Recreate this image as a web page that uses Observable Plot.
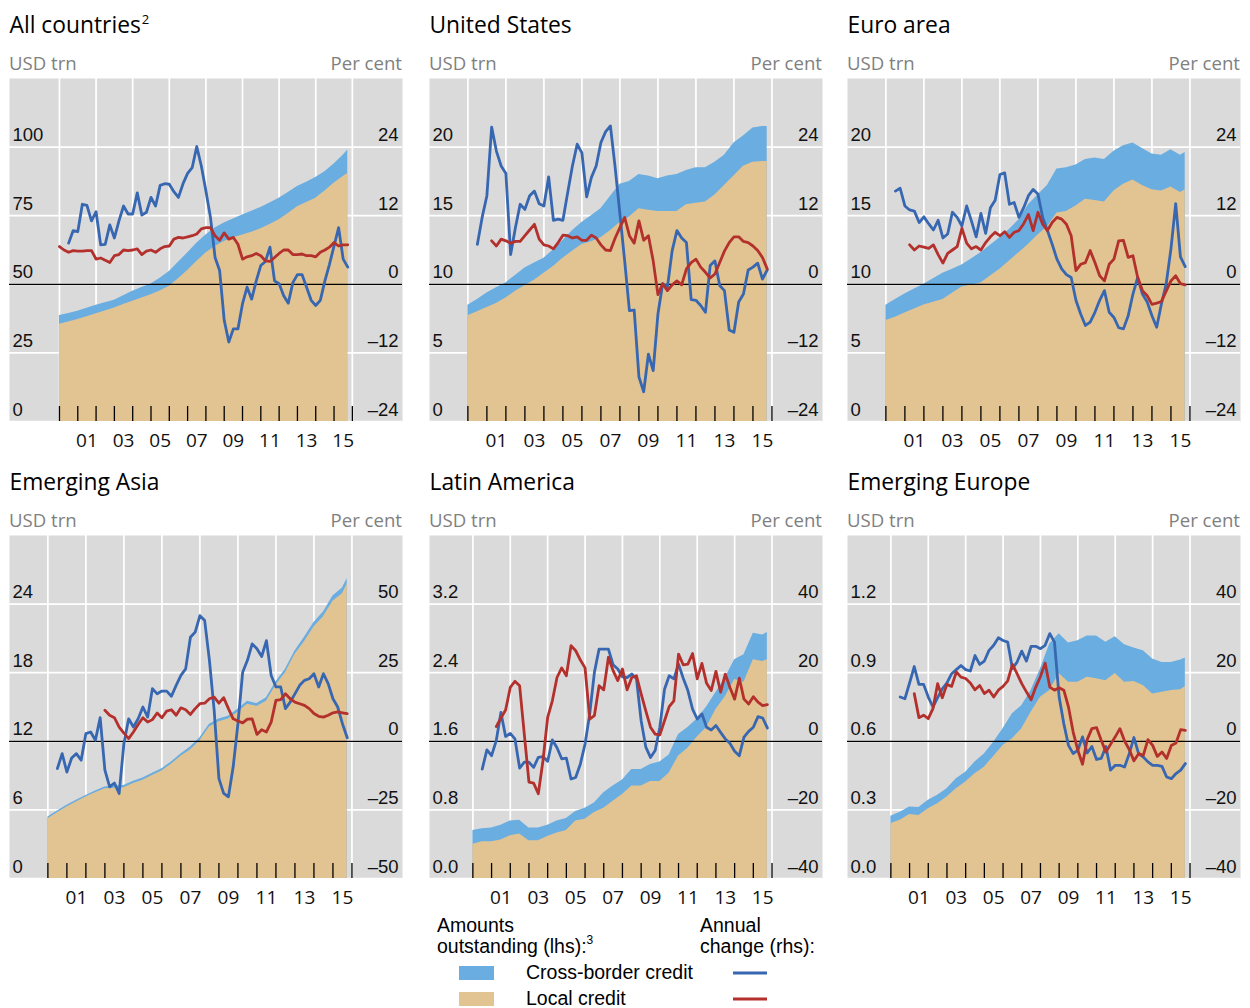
<!DOCTYPE html>
<html><head><meta charset="utf-8">
<script src="https://cdn.jsdelivr.net/npm/d3@7"></script>
<script src="https://cdn.jsdelivr.net/npm/@observablehq/plot@0.6"></script>
<style>
html,body{margin:0;padding:0;background:#fff;overflow:hidden;}
#root{position:relative;width:1250px;height:1008px;overflow:hidden;}
#overlay{position:absolute;left:0;top:0;}
.panel{position:absolute;}
.panel svg{overflow:visible;}
</style></head>
<body><div id="root"><svg id="overlay" width="1250" height="1008"></svg></div>
<script>
// ---------- DATA ----------
// half-year observation dates for amounts outstanding (areas)
const halfYears = [2000, 2000.5, 2001, 2001.5, 2002, 2002.5, 2003, 2003.5, 2004, 2004.5, 2005, 2005.5, 2006, 2006.5, 2007, 2007.5, 2008, 2008.5, 2009, 2009.5, 2010, 2010.5, 2011, 2011.5, 2012, 2012.5, 2013, 2013.5, 2014, 2014.5, 2015, 2015.5, 2015.75];
// quarterly dates for annual changes (lines)
const quarters = d3.range(64).map(i => 2000 + i / 4);

// All countries (USD trn / per cent)
const allLocal = [35.4, 36.3, 37.2, 38.2, 39.3, 40.3, 41.4, 42.6, 43.8, 45.0, 46.2, 47.6, 49.3, 52.0, 55.0, 58.3, 61.4, 63.8, 65.6, 67.0, 68.0, 69.0, 70.2, 71.8, 73.5, 75.8, 78.3, 79.8, 81.4, 84.0, 86.8, 89.3, 90.4];
const allCross = [3.2, 3.1, 3.0, 3.1, 3.1, 3.0, 2.8, 3.2, 3.7, 3.8, 3.9, 4.6, 5.4, 6.0, 6.4, 6.7, 6.6, 6.7, 6.7, 6.8, 7.3, 7.6, 7.8, 7.8, 7.9, 7.7, 7.3, 7.4, 7.5, 7.0, 7.0, 7.7, 8.5];
const allCrossChg = [null, null, 7.2, 9.4, 9.2, 14.0, 13.8, 11.1, 12.7, 6.9, 7.0, 10.4, 8.1, 11.1, 13.7, 12.3, 12.3, 16.0, 12.1, 12.6, 15.2, 13.7, 17.3, 17.6, 17.5, 16.2, 15.2, 17.6, 19.4, 20.4, 24.1, 20.7, 16.3, 11.7, 4.7, 2.4, -6.3, -10.1, -7.8, -7.8, -3.4, -0.5, -2.6, 0.6, 3.3, 4.0, 6.5, 0.6, 0.1, -2.0, -3.3, 0.3, 1.7, 1.7, -0.5, -2.8, -3.7, -2.8, 0.6, 3.5, 6.7, 9.9, 4.4, 3.0];
const allLocalChg = [6.6, 6.0, 5.6, 5.9, 5.8, 5.8, 5.9, 5.9, 4.4, 4.6, 4.2, 3.8, 5.0, 5.2, 6.0, 5.9, 6.0, 6.2, 5.2, 5.8, 6.0, 5.6, 6.2, 6.6, 6.7, 7.9, 8.2, 8.1, 8.3, 8.5, 8.8, 9.7, 9.9, 9.9, 8.5, 7.7, 9.0, 7.9, 8.2, 7.0, 4.4, 4.8, 5.0, 5.4, 5.0, 4.1, 4.0, 4.7, 5.4, 6.0, 6.0, 5.2, 5.2, 5.3, 5.0, 5.0, 4.8, 5.6, 6.0, 6.5, 7.3, 6.7, 6.9, 6.9];

// United States
const usLocal = [7.7, 8.0, 8.3, 8.6, 9.0, 9.5, 9.9, 10.3, 10.8, 11.3, 11.9, 12.4, 12.9, 13.1, 13.4, 13.9, 14.5, 14.9, 15.5, 15.4, 15.3, 15.3, 15.3, 15.8, 15.9, 16.0, 16.5, 17.2, 17.9, 18.6, 18.9, 18.95, 18.95];
const usCross = [0.77, 0.9, 1.07, 1.15, 1.1, 1.15, 1.29, 1.25, 1.1, 1.2, 1.3, 1.5, 1.6, 1.9, 2.1, 2.5, 2.8, 2.6, 2.5, 2.5, 2.4, 2.6, 2.7, 2.5, 2.6, 2.5, 2.4, 2.2, 2.4, 2.2, 2.5, 2.55, 2.55];
const usCrossChg = [null, null, 7.0, 11.7, 15.5, 27.5, 23.3, 20.7, 19.4, 5.2, 9.9, 14.0, 13.1, 15.5, 16.3, 14.1, 13.7, 18.8, 11.2, 11.4, 11.2, 16.0, 20.7, 24.5, 23.0, 15.3, 18.7, 20.7, 24.8, 26.7, 27.7, 20.4, 12.3, 4.1, -4.6, -4.5, -16.2, -18.8, -12.2, -15.1, -5.2, 0.1, -0.5, 5.9, 9.4, 8.1, 7.3, -2.7, -2.8, -3.7, -4.9, 3.3, 4.1, -0.2, -1.1, -8.0, -8.4, -3.1, -1.7, 2.5, 3.0, 3.7, 0.9, 2.5];
const usLocalChg = [null, null, null, null, null, 7.6, 6.7, 7.9, 7.6, 7.2, 7.5, 7.5, 8.5, 9.5, 10.5, 7.9, 6.9, 6.7, 6.2, 7.3, 8.6, 8.5, 8.1, 8.3, 7.7, 7.7, 8.6, 8.1, 6.9, 6.0, 5.9, 8.1, 9.9, 11.7, 8.5, 7.2, 11.1, 7.7, 8.5, 4.1, -1.8, 0.1, -1.1, -0.1, 0.6, -0.1, 2.7, 3.8, 4.4, 3.0, 2.1, 1.1, 1.8, 3.8, 5.8, 7.3, 8.3, 8.3, 7.5, 7.3, 6.7, 5.9, 4.7, 2.7];

// Euro area
const euroLocal = [7.36, 7.6, 7.9, 8.2, 8.5, 8.7, 8.9, 9.35, 9.8, 9.95, 10.1, 10.6, 11.1, 11.7, 12.3, 12.9, 13.6, 14.2, 15.2, 15.3, 15.7, 16.2, 16.1, 16.0, 16.8, 17.3, 17.6, 17.2, 16.9, 16.8, 17.1, 16.7, 16.9];
const euroCross = [1.11, 1.3, 1.4, 1.45, 1.5, 1.7, 1.9, 1.75, 1.6, 1.9, 2.2, 2.25, 2.3, 2.3, 2.4, 2.9, 2.9, 3.0, 3.2, 3.2, 3.0, 2.9, 3.1, 3.1, 2.9, 2.8, 2.7, 2.7, 2.6, 2.6, 2.7, 2.7, 2.7];
const euroCrossChg = [null, null, 16.3, 16.8, 13.7, 13.0, 12.8, 10.8, 11.8, 10.6, 9.5, 11.2, 8.1, 8.8, 12.6, 11.7, 10.2, 13.7, 11.1, 8.3, 12.4, 8.9, 13.4, 14.7, 19.2, 19.5, 14.0, 14.3, 11.7, 13.4, 15.5, 16.6, 15.8, 11.7, 9.4, 7.0, 4.4, 2.7, 1.7, 1.2, -2.8, -5.2, -7.2, -6.6, -4.9, -2.8, -1.1, -4.9, -5.8, -7.6, -7.8, -5.5, -1.7, 1.2, -1.7, -3.1, -5.5, -7.5, -3.4, 0.1, 6.2, 14.1, 4.8, 3.1];
const euroLocalChg = [null, null, null, null, null, 6.9, 6.0, 6.7, 6.5, 6.3, 6.9, 5.2, 3.7, 5.4, 6.0, 6.6, 9.8, 7.2, 6.2, 6.6, 6.0, 7.3, 8.3, 9.1, 8.5, 9.2, 8.2, 9.1, 9.4, 10.6, 12.2, 9.4, 12.6, 10.5, 9.4, 10.8, 11.7, 11.4, 10.5, 8.5, 2.4, 3.5, 3.8, 5.9, 3.8, 1.5, 0.6, 3.5, 4.4, 7.6, 7.7, 4.7, 5.0, 1.2, -1.1, -2.0, -3.5, -3.3, -3.0, -1.2, 0.6, 1.5, 0.1, -0.1];

// Emerging Asia
const asiaLocal = [5.23, 5.75, 6.25, 6.7, 7.12, 7.5, 7.85, 7.9, 7.94, 8.3, 8.6, 9.0, 9.4, 10.0, 10.7, 11.25, 12.05, 13.25, 13.7, 13.95, 14.55, 15.25, 15.05, 15.5, 16.9, 18.0, 19.6, 20.7, 22.0, 22.9, 24.25, 24.9, 25.75];
const asiaCross = [0.15, 0.15, 0.15, 0.15, 0.15, 0.15, 0.15, 0.2, 0.2, 0.2, 0.2, 0.2, 0.2, 0.2, 0.2, 0.25, 0.25, 0.25, 0.25, 0.25, 0.25, 0.25, 0.25, 0.3, 0.3, 0.3, 0.3, 0.4, 0.4, 0.4, 0.45, 0.5, 0.5];
const asiaCrossChg = [null, null, -9.9, -4.5, -11.2, -6.1, -4.5, -6.9, 2.8, 3.4, 0.4, 8.6, -10.5, -16.6, -15.2, -19.0, -0.8, 8.2, 5.2, 8.2, 12.5, 8.8, 19.2, 17.3, 18.3, 18.3, 16.4, 20.4, 24.0, 26.4, 37.9, 39.8, 45.8, 44.0, 29.5, 11.3, -13.6, -19.0, -20.2, -9.3, 6.4, 25.2, 29.5, 35.5, 33.7, 30.9, 36.7, 24.0, 19.8, 19.8, 11.9, 14.3, 17.3, 20.4, 22.2, 22.8, 24.6, 19.8, 24.6, 21.0, 15.5, 12.5, 6.4, 1.3];
const asiaLocalChg = [null, null, null, null, null, null, null, null, null, null, null, null, 11.3, 9.5, 8.6, 5.2, 3.0, 1.0, 3.4, 6.1, 8.6, 7.0, 7.9, 10.3, 8.6, 11.0, 11.5, 9.5, 12.2, 11.5, 9.8, 11.9, 13.7, 13.9, 15.5, 16.1, 13.9, 15.9, 11.9, 8.2, 7.4, 6.7, 8.1, 8.2, 2.5, 4.2, 3.4, 7.0, 14.9, 15.2, 17.3, 15.5, 14.3, 13.7, 13.1, 11.9, 10.1, 9.1, 8.8, 9.5, 10.4, 10.7, 10.4, 10.1];

// Latin America
const latLocal = [0.40, 0.43, 0.43, 0.45, 0.50, 0.52, 0.44, 0.44, 0.49, 0.53, 0.56, 0.67, 0.69, 0.77, 0.82, 0.90, 0.98, 1.08, 1.08, 1.13, 1.13, 1.23, 1.43, 1.52, 1.65, 1.76, 1.97, 2.12, 2.32, 2.29, 2.55, 2.53, 2.55];
const latCross = [0.16, 0.15, 0.16, 0.17, 0.17, 0.16, 0.15, 0.15, 0.13, 0.14, 0.14, 0.11, 0.13, 0.11, 0.18, 0.18, 0.17, 0.19, 0.19, 0.20, 0.23, 0.21, 0.25, 0.24, 0.21, 0.24, 0.20, 0.22, 0.23, 0.32, 0.31, 0.31, 0.32];
const latCrossChg = [null, null, -8.1, -2.5, -4.2, 0.2, 8.4, 1.4, 2.3, 0.7, -7.8, -6.1, -6.1, -7.6, -4.7, -4.5, -5.8, 0.4, -1.9, -5.1, -4.9, -11.0, -10.5, -6.6, -0.8, 8.0, 20.1, 26.9, 26.9, 26.9, 22.3, 21.1, 18.8, 18.6, 19.6, 18.2, 6.0, -1.7, -4.7, -2.7, 4.1, 15.2, 19.1, 18.2, 22.5, 18.4, 14.8, 9.4, 6.5, 8.0, 4.1, 3.3, 4.6, 2.6, 0.7, -0.6, -2.9, -4.2, 1.2, 2.9, 4.1, 7.2, 6.8, 3.9];
const latLocalChg = [null, null, null, null, null, 4.3, 6.8, 9.1, 15.7, 17.5, 16.2, 2.1, -11.9, -12.2, -15.3, -5.6, 7.0, 11.8, 18.6, 21.4, 19.1, 27.9, 26.4, 23.7, 21.4, 6.5, 7.5, 16.2, 15.0, 24.5, 20.6, 17.7, 21.1, 15.0, 18.6, 19.1, 13.8, 8.9, 4.1, 2.1, 1.9, 6.0, 10.1, 11.8, 25.4, 22.3, 22.5, 25.6, 18.2, 22.7, 16.9, 14.8, 20.4, 14.3, 19.6, 15.7, 12.3, 18.4, 12.3, 10.9, 13.0, 11.4, 10.4, 10.7];

// Emerging Europe
const eeLocal = [0.24, 0.255, 0.28, 0.276, 0.305, 0.327, 0.356, 0.393, 0.422, 0.458, 0.487, 0.534, 0.582, 0.611, 0.655, 0.727, 0.793, 0.822, 0.897, 0.858, 0.858, 0.88, 0.873, 0.865, 0.897, 0.858, 0.862, 0.844, 0.807, 0.815, 0.822, 0.825, 0.84];
const eeCross = [0.032, 0.035, 0.033, 0.034, 0.037, 0.037, 0.037, 0.043, 0.043, 0.051, 0.058, 0.062, 0.073, 0.109, 0.101, 0.095, 0.123, 0.203, 0.173, 0.172, 0.182, 0.18, 0.187, 0.168, 0.16, 0.164, 0.146, 0.152, 0.153, 0.13, 0.123, 0.13, 0.124];
const eeCrossChg = [null, null, 12.9, 12.4, 17.0, 21.8, 16.6, 16.6, 12.9, 10.0, 12.7, 15.3, 17.0, 19.7, 20.9, 22.1, 20.9, 20.5, 25.0, 22.4, 23.4, 26.5, 28.0, 30.2, 29.4, 28.9, 21.2, 23.1, 26.3, 23.4, 27.7, 27.7, 27.0, 28.0, 31.4, 28.9, 12.9, 5.1, -1.2, -3.6, -2.6, 1.3, -3.4, -1.5, -5.3, -5.0, -1.5, -8.4, -7.0, -7.0, -7.5, -3.6, 1.1, -3.6, -4.6, -6.0, -7.0, -7.0, -7.3, -10.4, -10.9, -9.4, -8.4, -6.5];
const eeLocalChg = [null, null, null, null, null, 13.9, 6.9, 7.6, 6.6, 9.5, 16.8, 12.7, 16.6, 16.0, 20.2, 18.7, 18.3, 17.0, 15.0, 16.3, 13.9, 14.9, 12.9, 14.9, 16.0, 17.6, 22.4, 19.7, 16.8, 14.4, 12.1, 15.8, 18.9, 22.8, 15.8, 14.9, 15.6, 14.9, 10.0, 2.7, -2.6, -6.7, 0.5, 3.7, 4.0, 0.3, -3.1, -0.9, 1.3, 3.7, 0.1, -2.4, -5.7, -3.6, -4.1, 0.5, -1.2, -4.4, -3.1, -5.0, -1.2, -0.5, 3.4, 3.2];

// tick labels
const lhsTicksAll = [0, 25, 50, 75, 100];
const lhsTicksUSEA = [0, 5, 10, 15, 20];
const lhsTicksAsia = [0, 6, 12, 18, 24];
const lhsTicksLat = [0, 0.8, 1.6, 2.4, 3.2];
const lhsTicksEE = [0, 0.3, 0.6, 0.9, 1.2];
const rhsTicks24 = [-24, -12, 0, 12, 24];
const rhsTicks50 = [-50, -25, 0, 25, 50];
const rhsTicks40 = [-40, -20, 0, 20, 40];
const yearLabels = [2001, 2003, 2005, 2007, 2009, 2011, 2013, 2015];
const yearTicks = [2000, 2001, 2002, 2003, 2004, 2005, 2006, 2007, 2008, 2009, 2010, 2011, 2012, 2013, 2014, 2015, 2016];
const gridYears = [2000, 2002, 2004, 2006, 2008, 2010, 2012, 2014, 2016];

// ---------- STYLE ----------
const GREY = "#dadada", BLUE_A = "#6aade0", TAN = "#e2c392", BLUE_L = "#3767b1", RED_L = "#b3302d";
const NUMFONT = "'Liberation Sans', Arial, sans-serif";
const UIFONT = "'Open Sans', 'Noto Sans', sans-serif";
const PW = 393, PH = 343;

const panels = [
  {title: "All countries", sup: "2", left: 9, top: 78, xDomain: [1997.27, 2018.74], lmax: 125, lt: lhsTicksAll, rhs: [-24, 36], rt: rhsTicks24, lf: d => String(d), local: allLocal, cross: allCross, cc: allCrossChg, lc: allLocalChg},
  {title: "United States", left: 429, top: 78, xDomain: [1997.98, 2018.66], lmax: 25, lt: lhsTicksUSEA, rhs: [-24, 36], rt: rhsTicks24, lf: d => String(d), local: usLocal, cross: usCross, cc: usCrossChg, lc: usLocalChg},
  {title: "Euro area", left: 847, top: 78, xDomain: [1997.98, 2018.66], lmax: 25, lt: lhsTicksUSEA, rhs: [-24, 36], rt: rhsTicks24, lf: d => String(d), local: euroLocal, cross: euroCross, cc: euroCrossChg, lc: euroLocalChg},
  {title: "Emerging Asia", left: 9, top: 535, xDomain: [1997.98, 2018.66], lmax: 30, lt: lhsTicksAsia, rhs: [-50, 75], rt: rhsTicks50, lf: d => String(d), local: asiaLocal, cross: asiaCross, cc: asiaCrossChg, lc: asiaLocalChg},
  {title: "Latin America", left: 429, top: 535, xDomain: [1997.68, 2018.70], lmax: 4, lt: lhsTicksLat, rhs: [-40, 60], rt: rhsTicks40, lf: d => d.toFixed(1), local: latLocal, cross: latCross, cc: latCrossChg, lc: latLocalChg},
  {title: "Emerging Europe", left: 847, top: 535, xDomain: [1997.68, 2018.70], lmax: 1.5, lt: lhsTicksEE, rhs: [-40, 60], rt: rhsTicks40, lf: d => d.toFixed(1), local: eeLocal, cross: eeCross, cc: eeCrossChg, lc: eeLocalChg}
];

const rfmt = d => d < 0 ? "\u2013" + Math.abs(d) : String(d);

function buildPanel(p) {
  const [r0, r1] = p.rhs;
  const toL = v => (v == null ? NaN : (v - r0) / (r1 - r0) * p.lmax);
  const areaRows = halfYears.map((t, i) => ({t, local: p.local[i], total: p.local[i] + p.cross[i]}));
  const ccRows = quarters.map((t, i) => ({t, v: toL(p.cc[i])}));
  const lcRows = quarters.map((t, i) => ({t, v: toL(p.lc[i])}));
  const tickRows = p.lt.map((l, i) => ({l, r: p.rt[i]}));
  return Plot.plot({
    width: PW, height: PH + 40,
    marginLeft: 0, marginRight: 0, marginTop: 0, marginBottom: 40,
    x: {domain: p.xDomain, axis: null},
    y: {domain: [0, p.lmax], axis: null},
    style: {background: "transparent", overflow: "visible"},
    marks: [
      Plot.frame({fill: GREY, stroke: null}),
      Plot.ruleX(gridYears, {stroke: "white", strokeWidth: 1.7}),
      Plot.ruleY(p.lt, {stroke: "white", strokeWidth: 1.7}),
      Plot.areaY(areaRows, {x: "t", y1: 0, y2: "total", fill: BLUE_A}),
      Plot.areaY(areaRows, {x: "t", y1: 0, y2: "local", fill: TAN}),
      Plot.ruleY([toL(0)], {stroke: "black", strokeWidth: 1.3}),
      Plot.ruleX(yearTicks, {insetTop: PH - 15, stroke: "black", strokeWidth: 1.3}),
      Plot.line(ccRows, {x: "t", y: "v", stroke: BLUE_L, strokeWidth: 2.8}),
      Plot.line(lcRows, {x: "t", y: "v", stroke: RED_L, strokeWidth: 2.8}),
      Plot.text(tickRows, {y: "l", frameAnchor: "left", text: d => p.lf(d.l), dx: 3, dy: -6, lineAnchor: "bottom", textAnchor: "start", fontSize: 18.5, fontFamily: NUMFONT, fill: "#111"}),
      Plot.text(tickRows, {y: "l", frameAnchor: "right", text: d => rfmt(d.r), dx: -4, dy: -6, lineAnchor: "bottom", textAnchor: "end", fontSize: 18.5, fontFamily: NUMFONT, fill: "#111"}),
      Plot.text(yearLabels, {x: d => d + 0.5, frameAnchor: "bottom", text: d => String(d % 100).padStart(2, "0"), dy: 25.5, lineAnchor: "bottom", fontSize: 19, fontFamily: UIFONT, fill: "#111"})
    ]
  });
}

const root = document.getElementById("root");
const ov = d3.select("#overlay");
for (const p of panels) {
  const div = document.createElement("div");
  div.className = "panel";
  div.style.left = p.left + "px";
  div.style.top = p.top + "px";
  div.appendChild(buildPanel(p));
  root.appendChild(div);
  const t = ov.append("text").attr("x", p.left + 0.5).attr("y", p.top - 45)
    .attr("font-family", UIFONT).attr("font-size", 22.8).attr("fill", "#000").text(p.title);
  if (p.sup) t.append("tspan").attr("font-size", 13).attr("dy", -9).attr("dx", 1).text(p.sup);
  ov.append("text").attr("x", p.left).attr("y", p.top - 8)
    .attr("font-family", UIFONT).attr("font-size", 18.6).attr("fill", "#808080").text("USD trn");
  ov.append("text").attr("x", p.left + PW).attr("y", p.top - 8).attr("text-anchor", "end")
    .attr("font-family", UIFONT).attr("font-size", 18.6).attr("fill", "#808080").text("Per cent");
}

// legend
const lg = ov.append("g").attr("font-family", NUMFONT).attr("font-size", 19.5).attr("fill", "#000");
lg.append("text").attr("x", 437).attr("y", 932).text("Amounts");
const o = lg.append("text").attr("x", 437).attr("y", 953).text("outstanding (lhs):");
o.append("tspan").attr("font-size", 12).attr("dy", -9).text("3");
lg.append("text").attr("x", 700).attr("y", 932).text("Annual");
lg.append("text").attr("x", 700).attr("y", 953).text("change (rhs):");
lg.append("rect").attr("x", 459).attr("y", 966).attr("width", 35).attr("height", 14).attr("fill", BLUE_A);
lg.append("rect").attr("x", 459).attr("y", 992).attr("width", 35).attr("height", 14).attr("fill", TAN);
lg.append("text").attr("x", 526).attr("y", 979).text("Cross-border credit");
lg.append("text").attr("x", 526).attr("y", 1005).text("Local credit");
lg.append("line").attr("x1", 733).attr("x2", 767).attr("y1", 973).attr("y2", 973).attr("stroke", BLUE_L).attr("stroke-width", 3);
lg.append("line").attr("x1", 733).attr("x2", 767).attr("y1", 999).attr("y2", 999).attr("stroke", RED_L).attr("stroke-width", 3);
</script>
</body></html>
